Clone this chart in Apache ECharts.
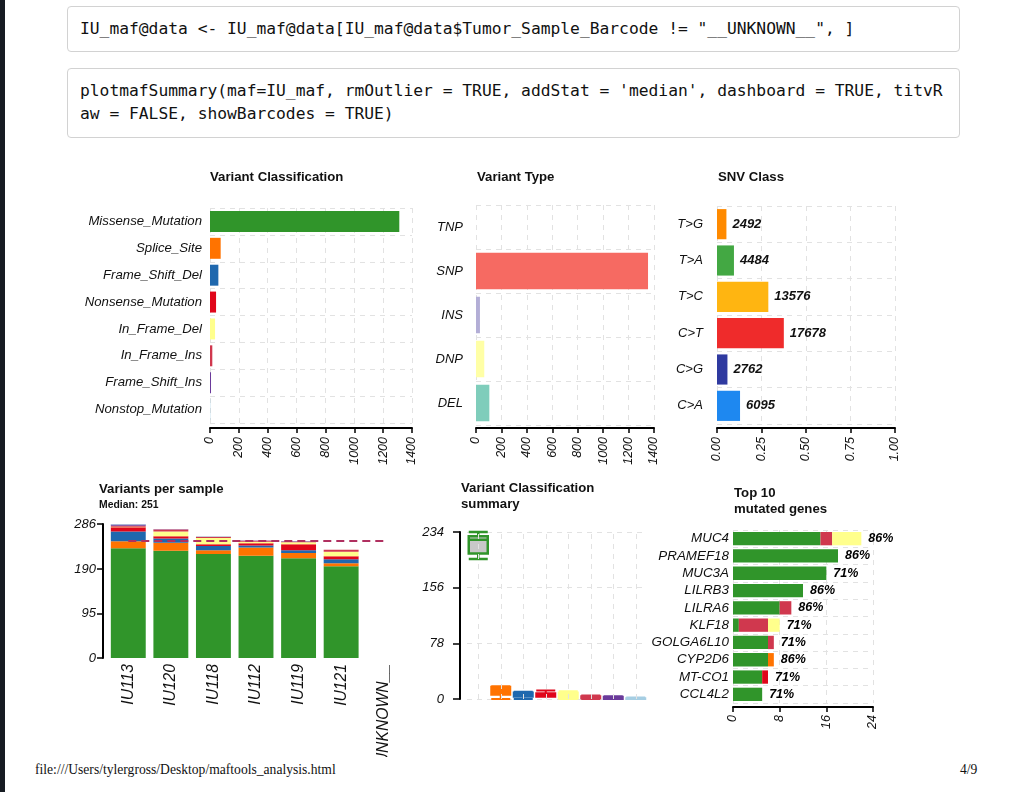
<!DOCTYPE html>
<html>
<head>
<meta charset="utf-8">
<title>plotmafSummary</title>
<script src="https://cdn.jsdelivr.net/npm/echarts@6/dist/echarts.min.js"></script>
<style>
html, body { margin: 0; padding: 0; background: #fff; }
body { position: relative; width: 1016px; height: 792px; overflow: hidden; }
#edge { position: absolute; left: 0; top: 0; width: 5px; height: 792px; background: #161b22; }
.code { position: absolute; left: 67px; width: 893px; box-sizing: border-box;
        border: 1px solid #d2d2d2; border-radius: 4px; background: #fff;
        font-family: "DejaVu Sans Mono", monospace; font-size: 16.3px; color: #111;
        padding-left: 12px; white-space: pre; }
#code1 { top: 6px; height: 46px; line-height: 44px; }
#code2 { top: 68px; height: 70px; line-height: 23px; padding-top: 10px; }
#chart { position: absolute; left: 0; top: 0; width: 1016px; height: 757px; }
.foot { position: absolute; top: 762px; font-family: "Liberation Serif", serif; font-size: 13.6px; color: #111; }
</style>
</head>
<body>
<div id="edge"></div>
<div class="code" id="code1">IU_maf@data &lt;- IU_maf@data[IU_maf@data$Tumor_Sample_Barcode != "__UNKNOWN__", ]</div>
<div class="code" id="code2">plotmafSummary(maf=IU_maf, rmOutlier = TRUE, addStat = 'median', dashboard = TRUE, titvR
aw = FALSE, showBarcodes = TRUE)</div>
<div id="chart"></div>
<div class="foot" style="left:35px">file:///Users/tylergross/Desktop/maftools_analysis.html</div>
<div class="foot" style="left:960px">4/9</div>
<script>
// ---- data ----
const vcClasses = ['Missense_Mutation', 'Splice_Site', 'Frame_Shift_Del', 'Nonsense_Mutation',
    'In_Frame_Del', 'In_Frame_Ins', 'Frame_Shift_Ins', 'Nonstop_Mutation'];
const vcCounts = [1312, 74, 58, 42, 35, 16, 7, 2];
const vcColors = ['#30952a', '#ff7300', '#1f68ae', '#e0061a', '#ffff8c', '#d0384e', '#6a3a9a', '#a6cee3'];

const vtTypes = ['TNP', 'SNP', 'INS', 'DNP', 'DEL'];
const vtCounts = [0, 1353, 31, 65, 105];
const vtColors = ['#e8f4f8', '#f66a62', '#b3aed6', '#ffffa6', '#7fcdbb'];

const snvClasses = ['T>G', 'T>A', 'T>C', 'C>T', 'C>G', 'C>A'];
const snvCounts = [2492, 4484, 13576, 17678, 2762, 6095];
const snvColors = ['#ff8a00', '#43a843', '#ffb511', '#ef2b2b', '#2f3aa0', '#1e88f0'];

const samples = ['IU113', 'IU120', 'IU118', 'IU112', 'IU119', 'IU121', '__UNKNOWN__'];
const sMissense = [234, 229, 222, 218, 213, 196, 0];
const sSplice   = [15, 17, 8, 18, 11, 6, 0];
const sFsDel    = [21, 9, 9, 4, 6, 9, 0];
const sNonsense = [9, 5, 4, 5, 13, 6, 0];
const sIfDel    = [1, 10, 13, 3, 4, 10, 0];
const sIfIns    = [2, 4, 3, 2, 1, 4, 0];
const sFsIns    = [3, 1, 0, 1, 1, 0, 0];
const sNonstop  = [1, 0, 1, 0, 0, 0, 0];
const sampleStacks = [sMissense, sSplice, sFsDel, sNonsense, sIfDel, sIfIns, sFsIns, sNonstop];
const medianVariants = 251;
const perSampleTicks = [0, 95, 190, 286];

// min, Q1, median, Q3, max per variant class
const vcBoxes = [
    [196, 204, 223, 228, 234],
    [0, 6, 12, 17, 18],
    [0, 3, 6, 9, 10],
    [3, 3, 5, 8, 12],
    [0, 1, 4, 9, 11],
    [0, 1, 2, 4, 5],
    [0, 0, 1, 3, 4],
    [0, 0, 0.5, 1, 2]
];

const genes = ['MUC4', 'PRAMEF18', 'MUC3A', 'LILRB3', 'LILRA6', 'KLF18', 'GOLGA6L10', 'CYP2D6', 'MT-CO1', 'CCL4L2'];
const gMissense = [15, 18, 16, 12, 8, 1, 6, 6, 5, 5];
const gSplice   = [0, 0, 0, 0, 0, 0, 0, 1, 0, 0];
const gNonsense = [0, 0, 0, 0, 0, 0, 0, 0, 1, 0];
const gIfIns    = [2, 0, 0, 0, 2, 5, 1, 0, 0, 0];
const gIfDel    = [5, 0, 0, 0, 0, 2, 0, 0, 0, 0];
const genePct = ['86%', '86%', '71%', '86%', '86%', '71%', '71%', '86%', '71%', '71%'];

// ---- chart ----
const FONT = '"Liberation Sans", Arial, Helvetica, sans-serif';
const INK = '#111';
const dashGrid = { show: true, lineStyle: { color: '#e2e2e2', type: [5, 5], width: 1 } };
const blackLine = { show: true, lineStyle: { color: '#000', width: 2 } };

function tick(len) {
    return { show: true, length: len, lineStyle: { color: '#000', width: 1.5 } };
}
function rotLabel(size, margin, fmt) {
    return { rotate: 90, fontStyle: 'italic', fontSize: size, color: INK, fontFamily: FONT, margin: margin,
             formatter: fmt || (v => String(v)) };
}
function catLabel(size, margin) {
    return { fontStyle: 'italic', fontSize: size, color: INK, fontFamily: FONT, margin: margin };
}
function head(text, left, top, size) {
    return { text: text, left: left, top: top, padding: 0,
        textStyle: { fontFamily: FONT, fontWeight: 'bold', fontSize: size, color: INK, lineHeight: 16 } };
}
function colored(values, colors) {
    return values.map((v, i) => ({ value: v, itemStyle: { color: colors[i] } }));
}

let chart = echarts.init(document.getElementById('chart'));

let snvTotal = snvCounts.reduce((a, b) => a + b, 0);
let snvFrac = snvCounts.map(c => c / snvTotal);
let geneTotals = genes.map((g, i) => gMissense[i] + gSplice[i] + gNonsense[i] + gIfIns[i] + gIfDel[i]);

let sampleSeries = sampleStacks.map((arr, k) => ({
    type: 'bar', name: vcClasses[k], stack: 'vps', xAxisIndex: 3, yAxisIndex: 3,
    barCategoryGap: '18%', data: arr, itemStyle: { color: vcColors[k] }
}));
sampleSeries[sampleSeries.length - 1].markLine = {
    silent: true, symbol: ['none', 'none'], label: { show: false },
    lineStyle: { color: '#b03060', width: 2, type: [8, 5] },
    data: [[{ xAxis: 'IU113', yAxis: medianVariants }, { xAxis: '__UNKNOWN__', yAxis: medianVariants }]]
};

let geneParts = [
    [gMissense, vcColors[0]], [gSplice, vcColors[1]], [gNonsense, vcColors[3]],
    [gIfIns, vcColors[5]], [gIfDel, vcColors[4]]
];
let geneSeries = geneParts.map(p => ({
    type: 'bar', stack: 'genes', xAxisIndex: 5, yAxisIndex: 5,
    barCategoryGap: '23%', data: p[0], itemStyle: { color: p[1] }
}));

let option = {
    animation: false,
    title: [
        head('Variant Classification', 210, 169, 13.2),
        head('Variant Type', 477, 169, 13.2),
        head('SNV Class', 718, 169, 13.2),
        head('Variants per sample', 99, 481, 13.2),
        { text: 'Median: 251', left: 99, top: 500, padding: 0,
          textStyle: { fontFamily: FONT, fontWeight: 'bold', fontSize: 10.4, color: INK } },
        head('Variant Classification\nsummary', 461, 480, 13.2),
        head('Top 10\nmutated genes', 734, 485, 13.2)
    ],
    grid: [
        { left: 210, top: 208, width: 202, height: 215, outerBoundsMode: 'none' },
        { left: 476, top: 205, width: 178, height: 220, outerBoundsMode: 'none' },
        { left: 717, top: 206, width: 178, height: 218, outerBoundsMode: 'none' },
        { left: 107, top: 524, width: 298, height: 134, outerBoundsMode: 'none' },
        { left: 467, top: 532, width: 180, height: 167, outerBoundsMode: 'none' },
        { left: 733, top: 530, width: 140, height: 173, outerBoundsMode: 'none' }
    ],
    xAxis: [
        { gridIndex: 0, type: 'value', min: 0, max: 1400, interval: 200, offset: 5,
          axisLine: blackLine, axisTick: tick(5), axisLabel: rotLabel(12.5, 9), splitLine: dashGrid },
        { gridIndex: 1, type: 'value', min: 0, max: 1400, interval: 200, offset: 3,
          axisLine: blackLine, axisTick: tick(5), axisLabel: rotLabel(12.5, 9), splitLine: dashGrid },
        { gridIndex: 2, type: 'value', min: 0, max: 1, interval: 0.25, offset: 4,
          axisLine: blackLine, axisTick: tick(5), axisLabel: rotLabel(12.5, 9, v => v.toFixed(2)), splitLine: dashGrid },
        { gridIndex: 3, type: 'category', data: samples,
          axisLine: { show: false }, axisTick: { show: false },
          axisLabel: { rotate: 90, interval: 0, fontStyle: 'italic', fontSize: 15.7, color: INK, fontFamily: FONT, margin: 6 },
          splitLine: { show: false } },
        { gridIndex: 4, type: 'category', data: vcClasses,
          axisLine: { show: false }, axisTick: { show: false }, axisLabel: { show: false }, splitLine: { show: false } },
        { gridIndex: 5, type: 'value', min: 0, max: 24, interval: 8, offset: 4,
          axisLine: blackLine, axisTick: tick(5), axisLabel: rotLabel(12.5, 8), splitLine: dashGrid }
    ],
    yAxis: [
        { gridIndex: 0, type: 'category', data: vcClasses, inverse: true,
          axisLine: { show: false }, axisTick: { show: false }, axisLabel: catLabel(13.2, 8), splitLine: dashGrid },
        { gridIndex: 1, type: 'category', data: vtTypes, inverse: true,
          axisLine: { show: false }, axisTick: { show: false }, axisLabel: catLabel(13, 13), splitLine: dashGrid },
        { gridIndex: 2, type: 'category', data: snvClasses, inverse: true,
          axisLine: { show: false }, axisTick: { show: false }, axisLabel: catLabel(13, 14), splitLine: dashGrid },
        { gridIndex: 3, type: 'value', min: 0, max: 286, offset: 4,
          axisLine: blackLine,
          axisTick: { show: true, length: 6, lineStyle: { color: '#000', width: 1.5 }, customValues: perSampleTicks },
          axisLabel: { fontStyle: 'italic', fontSize: 13, color: INK, fontFamily: FONT, margin: 7, customValues: perSampleTicks },
          splitLine: { show: false } },
        { gridIndex: 4, type: 'value', min: 0, max: 234, interval: 78, offset: 7,
          axisLine: blackLine, axisTick: tick(7),
          axisLabel: { fontStyle: 'italic', fontSize: 13, color: INK, fontFamily: FONT, margin: 16 },
          splitLine: dashGrid },
        { gridIndex: 5, type: 'category', data: genes, inverse: true,
          axisLine: { show: false }, axisTick: { show: false }, axisLabel: catLabel(13.4, 4), splitLine: dashGrid }
    ],
    series: [
        { type: 'bar', xAxisIndex: 0, yAxisIndex: 0, barCategoryGap: '22%', data: colored(vcCounts, vcColors) },
        { type: 'bar', xAxisIndex: 1, yAxisIndex: 1, barCategoryGap: '17%', data: colored(vtCounts, vtColors) },
        { type: 'bar', xAxisIndex: 2, yAxisIndex: 2, barCategoryGap: '17%', data: colored(snvFrac, snvColors),
          label: { show: true, position: 'right', distance: 6, formatter: p => snvCounts[p.dataIndex],
                   fontFamily: FONT, fontWeight: 'bold', fontStyle: 'italic', fontSize: 13, color: INK } },
        ...sampleSeries,
        { type: 'line', xAxisIndex: 4, yAxisIndex: 4, data: [], z: 1,
          markLine: { silent: true, symbol: ['none', 'none'], label: { show: false },
                      lineStyle: { color: '#e2e2e2', type: [5, 5], width: 1 },
                      data: vcClasses.map(c => ({ xAxis: c })) } },
        { type: 'boxplot', xAxisIndex: 4, yAxisIndex: 4, z: 3, boxWidth: [19, 19],
          data: vcBoxes.map((b, i) => ({
              value: b,
              itemStyle: i === 0
                  ? { color: '#c8c8c8', borderColor: vcColors[0], borderWidth: 2.5 }
                  : { color: vcColors[i], borderColor: vcColors[i], borderWidth: 2 }
          })) },
        ...geneSeries,
        { type: 'scatter', xAxisIndex: 5, yAxisIndex: 5, symbolSize: 2, z: 5,
          itemStyle: { color: 'rgba(255,255,255,0)' },
          data: geneTotals.map((t, i) => [t, genes[i]]),
          label: { show: true, position: 'right', distance: 6, formatter: p => genePct[p.dataIndex],
                   fontFamily: FONT, fontWeight: 'bold', fontStyle: 'italic', fontSize: 12.5,
                   color: '#000', opacity: 1, textBorderWidth: 0 } }
    ]
};

chart.setOption(option);
</script>
</body>
</html>
